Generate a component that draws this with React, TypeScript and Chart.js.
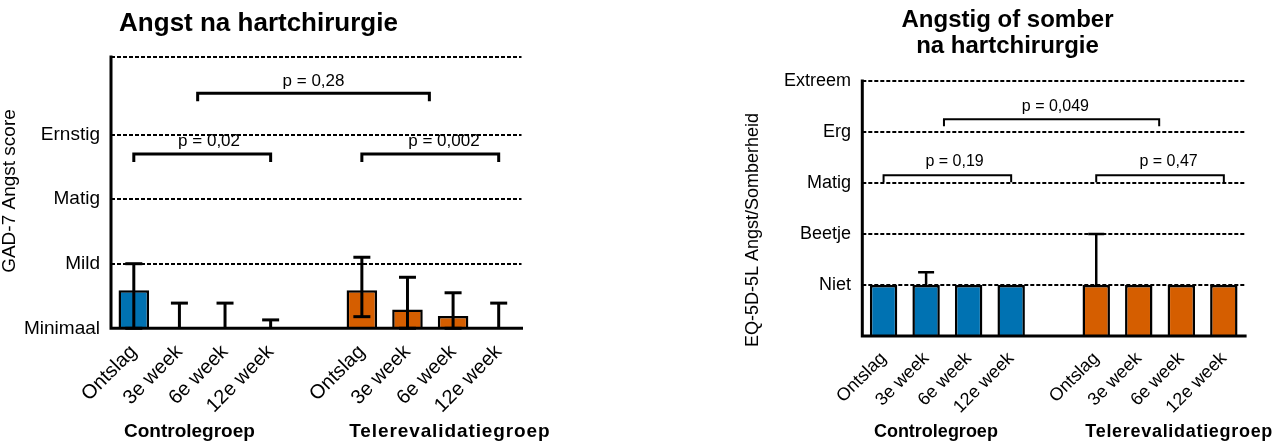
import React, { useEffect, useRef } from "react";
import { Chart, registerables } from "chart.js";

Chart.register(...registerables);

const FONT = "'Liberation Sans', Arial, Helvetica, sans-serif";

// ---------- shared data ----------
const timepoints = ["Ontslag", "3e week", "6e week", "12e week"];
const groupNames = ["Controlegroep", "Telerevalidatiegroep"];
const BLUE = "#0072B2";
const ORANGE = "#D55E00";

// ---------- left chart: GAD-7 ----------
const gadTickValues = [0, 5, 10, 15, 21];
const gadTickLabels = ["Minimaal", "Mild", "Matig", "Ernstig", ""];
const gadControl = [2.95, 0, 0, 0];
const gadControlLow = [0, 0, 0, 0];
const gadControlHigh = [5.0, 1.95, 1.95, 0.65];
const gadTele = [2.95, 1.45, 0.95, 0];
const gadTeleLow = [0.9, 0, 0, 0];
const gadTeleHigh = [5.5, 3.95, 2.75, 1.95];
const gadBracketLabels = ["p = 0,28", "p = 0,02", "p = 0,002"];
const gadBracketFrom = [1.4, 0, 5];
const gadBracketTo = [6.48, 3, 8];
const gadBracketLevel = [18.2, 13.5, 13.5];
const gadBracketTextX = [3.94, 1.65, 6.8];
const gadBracketTextLevel = [19.1, 14.5, 14.5];

// ---------- right chart: EQ-5D-5L ----------
const eqTickValues = [0, 1, 2, 3, 4, 5];
const eqTickLabels = ["", "Niet", "Beetje", "Matig", "Erg", "Extreem"];
const eqControl = [1, 1, 1, 1];
const eqControlLow = [1, 1, 1, 1];
const eqControlHigh = [1, 1.25, 1, 1];
const eqTele = [1, 1, 1, 1];
const eqTeleLow = [1, 1, 1, 1];
const eqTeleHigh = [2, 1, 1, 1];
const eqBracketLabels = ["p = 0,049", "p = 0,19", "p = 0,47"];
const eqBracketFrom = [1.42, 0, 5];
const eqBracketTo = [6.48, 3, 8];
const eqBracketLevel = [4.25, 3.15, 3.15];
const eqBracketTextX = [4.04, 1.67, 6.7];
const eqBracketTextLevel = [4.49, 3.41, 3.41];

const categories = [...timepoints, "", ...timepoints];
const pad9 = (a: number[], first: boolean) =>
  first ? [...a, null, null, null, null, null] : [null, null, null, null, null, ...a];

type Spec = {
  width: number;
  left: number;
  padTop: number;
  padRight: number;
  yWidth: number;
  xHeight: number;
  yPad: number;
  xPad: number;
  tickFont: number;
  xTickFont: number;
  yMax: number;
  tickValues: number[];
  tickLabels: string[];
  gridValues: number[];
  control: number[];
  controlLow: number[];
  controlHigh: number[];
  tele: number[];
  teleLow: number[];
  teleHigh: number[];
  barPct: number;
  barBorder: number;
  axisW: number;
  errW: number;
  capW: number;
  gridW: number;
  dash: number[];
  bLabels: string[];
  bFrom: number[];
  bTo: number[];
  bLevel: number[];
  bTextX: number[];
  bTextLevel: number[];
  bW: number;
  bTick: number;
  pFont: number;
  title: string[];
  titleX: number;
  titleY: number[];
  titleFont: number;
  yTitle: string;
  yTitleX: number;
  yTitleY: number;
  yTitleFont: number;
  groupFont: number;
  groupY: number;
  groupPos: number[];
  groupSpacing: number[];
};

const leftSpec: Spec = {
  width: 640,
  left: 0,
  padTop: 57,
  padRight: 118.5,
  yWidth: 111,
  xHeight: 116.7,
  yPad: 11,
  xPad: 12,
  tickFont: 19,
  xTickFont: 20,
  yMax: 21,
  tickValues: gadTickValues,
  tickLabels: gadTickLabels,
  gridValues: [5, 10, 15, 21],
  control: gadControl,
  controlLow: gadControlLow,
  controlHigh: gadControlHigh,
  tele: gadTele,
  teleLow: gadTeleLow,
  teleHigh: gadTeleHigh,
  barPct: 0.67,
  barBorder: 2.5,
  axisW: 3,
  errW: 3,
  capW: 17,
  gridW: 2,
  dash: [4, 2],
  bLabels: gadBracketLabels,
  bFrom: gadBracketFrom,
  bTo: gadBracketTo,
  bLevel: gadBracketLevel,
  bTextX: gadBracketTextX,
  bTextLevel: gadBracketTextLevel,
  bW: 3,
  bTick: 8,
  pFont: 17,
  title: ["Angst na hartchirurgie"],
  titleX: 258.5,
  titleY: [30.7],
  titleFont: 26,
  yTitle: "GAD-7 Angst score",
  yTitleX: 15,
  yTitleY: 191,
  yTitleFont: 19,
  groupFont: 19,
  groupY: 436.7,
  groupPos: [1.22, 6.93],
  groupSpacing: [0, 0.9],
};

const rightSpec: Spec = {
  width: 644,
  left: 640,
  padTop: 81,
  padRight: 38.9,
  yWidth: 222.3,
  xHeight: 109,
  yPad: 11.3,
  xPad: 12,
  tickFont: 18,
  xTickFont: 18,
  yMax: 5,
  tickValues: eqTickValues,
  tickLabels: eqTickLabels,
  gridValues: [1, 2, 3, 4, 5],
  control: eqControl,
  controlLow: eqControlLow,
  controlHigh: eqControlHigh,
  tele: eqTele,
  teleLow: eqTeleLow,
  teleHigh: eqTeleHigh,
  barPct: 0.645,
  barBorder: 2.5,
  axisW: 3,
  errW: 2.5,
  capW: 16,
  gridW: 2,
  dash: [4, 2],
  bLabels: eqBracketLabels,
  bFrom: eqBracketFrom,
  bTo: eqBracketTo,
  bLevel: eqBracketLevel,
  bTextX: eqBracketTextX,
  bTextLevel: eqBracketTextLevel,
  bW: 2,
  bTick: 7,
  pFont: 16,
  title: ["Angstig of somber", "na hartchirurgie"],
  titleX: 367.5,
  titleY: [27.3, 53.3],
  titleFont: 24,
  yTitle: "EQ-5D-5L Angst/Somberheid",
  yTitleX: 118,
  yTitleY: 230,
  yTitleFont: 18,
  groupFont: 18,
  groupY: 436.7,
  groupPos: [1.23, 6.95],
  groupSpacing: [0, 0.7],
};

function buildChart(canvas: HTMLCanvasElement, s: Spec) {
  const xAt = (chart: any, f: number) => {
    const xs = chart.scales.x;
    const p0 = xs.getPixelForValue(0);
    const p1 = xs.getPixelForValue(1);
    return p0 + f * (p1 - p0);
  };

  const decor = {
    id: "decor",
    beforeDatasetsDraw(chart: any) {
      const { ctx, chartArea, scales } = chart;
      ctx.save();
      ctx.strokeStyle = "#000";
      ctx.lineWidth = s.gridW;
      ctx.setLineDash(s.dash);
      s.gridValues.forEach((v) => {
        const y = Math.round(scales.y.getPixelForValue(v));
        ctx.beginPath();
        ctx.moveTo(chartArea.left, y);
        ctx.lineTo(chartArea.right, y);
        ctx.stroke();
      });
      ctx.restore();
    },
    afterDatasetsDraw(chart: any) {
      const { ctx, chartArea, scales } = chart;
      const ys = scales.y;
      ctx.save();
      // error bars
      const errs = [
        [s.controlLow, s.controlHigh, s.control],
        [s.teleLow, s.teleHigh, s.tele],
      ];
      errs.forEach(([low, high, val], di) => {
        const meta = chart.getDatasetMeta(di);
        val.forEach((v, j) => {
          const el = meta.data[di === 0 ? j : j + 5];
          if (!el) return;
          const x = el.x;
          const yH = ys.getPixelForValue(high[j]);
          const yL = ys.getPixelForValue(low[j]);
          const yV = ys.getPixelForValue(v);
          ctx.strokeStyle = "#000";
          ctx.lineWidth = s.errW;
          ctx.lineCap = "butt";
          if (high[j] > v || low[j] < v) {
            ctx.beginPath();
            ctx.moveTo(x, Math.max(yL, yV));
            ctx.lineTo(x, Math.min(yH, yV));
            ctx.stroke();
          }
          if (high[j] > v) {
            ctx.beginPath();
            ctx.moveTo(x - s.capW / 2, yH);
            ctx.lineTo(x + s.capW / 2, yH);
            ctx.stroke();
          }
          if (low[j] < v) {
            ctx.beginPath();
            ctx.moveTo(x - s.capW / 2, yL);
            ctx.lineTo(x + s.capW / 2, yL);
            ctx.stroke();
          }
        });
      });
      // axes
      ctx.strokeStyle = "#000";
      ctx.lineWidth = s.axisW;
      ctx.lineCap = "square";
      ctx.beginPath();
      ctx.moveTo(chartArea.left, ys.getPixelForValue(s.yMax));
      ctx.lineTo(chartArea.left, chartArea.bottom);
      ctx.lineTo(chartArea.right, chartArea.bottom);
      ctx.stroke();
      ctx.restore();
    },
    afterDraw(chart: any) {
      const { ctx, scales } = chart;
      const ys = scales.y;
      ctx.save();
      // brackets
      ctx.strokeStyle = "#000";
      ctx.fillStyle = "#000";
      ctx.lineWidth = s.bW;
      ctx.lineCap = "butt";
      ctx.lineJoin = "miter";
      s.bLabels.forEach((lab, i) => {
        const x1 = xAt(chart, s.bFrom[i]);
        const x2 = xAt(chart, s.bTo[i]);
        const y = ys.getPixelForValue(s.bLevel[i]);
        ctx.beginPath();
        ctx.moveTo(x1, y + s.bTick);
        ctx.lineTo(x1, y);
        ctx.lineTo(x2, y);
        ctx.lineTo(x2, y + s.bTick);
        ctx.stroke();
        ctx.font = `${s.pFont}px ${FONT}`;
        ctx.textAlign = "center";
        ctx.textBaseline = "middle";
        ctx.fillText(lab, xAt(chart, s.bTextX[i]), ys.getPixelForValue(s.bTextLevel[i]));
      });
      // title
      ctx.font = `bold ${s.titleFont}px ${FONT}`;
      ctx.textAlign = "center";
      ctx.textBaseline = "alphabetic";
      s.title.forEach((t, i) => ctx.fillText(t, s.titleX, s.titleY[i]));
      // group labels
      ctx.font = `bold ${s.groupFont}px ${FONT}`;
      groupNames.forEach((g, i) => {
        (ctx as any).letterSpacing = `${s.groupSpacing[i]}px`;
        ctx.fillText(g, xAt(chart, s.groupPos[i]), s.groupY);
      });
      (ctx as any).letterSpacing = "0px";
      // y title
      ctx.translate(s.yTitleX, s.yTitleY);
      ctx.rotate(-Math.PI / 2);
      ctx.font = `${s.yTitleFont}px ${FONT}`;
      ctx.textAlign = "center";
      ctx.textBaseline = "alphabetic";
      ctx.fillText(s.yTitle, 0, 0);
      ctx.restore();
    },
  };

  return new Chart(canvas, {
    type: "bar",
    data: {
      labels: categories,
      datasets: [
        {
          label: groupNames[0],
          data: pad9(s.control, true) as any,
          backgroundColor: BLUE,
          borderColor: "#000",
          borderWidth: s.barBorder,
          grouped: false,
          barPercentage: s.barPct,
          categoryPercentage: 1,
        },
        {
          label: groupNames[1],
          data: pad9(s.tele, false) as any,
          backgroundColor: ORANGE,
          borderColor: "#000",
          borderWidth: s.barBorder,
          grouped: false,
          barPercentage: s.barPct,
          categoryPercentage: 1,
        },
      ],
    },
    options: {
      animation: false,
      responsive: false,
      devicePixelRatio: 1,
      layout: { padding: { left: 0, right: s.padRight, top: s.padTop, bottom: 0 } },
      plugins: {
        legend: { display: false },
        tooltip: { enabled: false },
        title: { display: false },
      },
      scales: {
        x: {
          type: "category",
          offset: true,
          grid: { display: false, drawTicks: false },
          border: { display: false },
          ticks: {
            autoSkip: false,
            maxRotation: 45,
            minRotation: 45,
            padding: s.xPad,
            color: "#000",
            font: { size: s.xTickFont, family: FONT },
          },
          afterFit: (sc: any) => {
            sc.height = s.xHeight;
          },
        },
        y: {
          min: 0,
          max: s.yMax,
          grid: { display: false, drawTicks: false },
          border: { display: false },
          afterBuildTicks: (sc: any) => {
            sc.ticks = s.tickValues.map((v) => ({ value: v }));
          },
          ticks: {
            autoSkip: false,
            padding: s.yPad,
            color: "#000",
            font: { size: s.tickFont, family: FONT },
            callback: (v: any) => {
              const i = s.tickValues.indexOf(Number(v));
              return i >= 0 ? s.tickLabels[i] : "";
            },
          },
          afterFit: (sc: any) => {
            sc.width = s.yWidth;
          },
        },
      },
    },
    plugins: [decor],
  } as any);
}

function Panel({ spec }: { spec: Spec }) {
  const ref = useRef<HTMLCanvasElement | null>(null);
  useEffect(() => {
    if (!ref.current) return;
    const c = buildChart(ref.current, spec);
    return () => c.destroy();
  }, [spec]);
  return (
    <canvas
      ref={ref}
      width={spec.width}
      height={445}
      style={{ position: "absolute", left: spec.left, top: 0, width: spec.width, height: 445 }}
    />
  );
}

export default function App() {
  return (
    <div style={{ position: "absolute", left: 0, top: 0, width: 1284, height: 445, background: "#fff" }}>
      <Panel spec={leftSpec} />
      <Panel spec={rightSpec} />
    </div>
  );
}
